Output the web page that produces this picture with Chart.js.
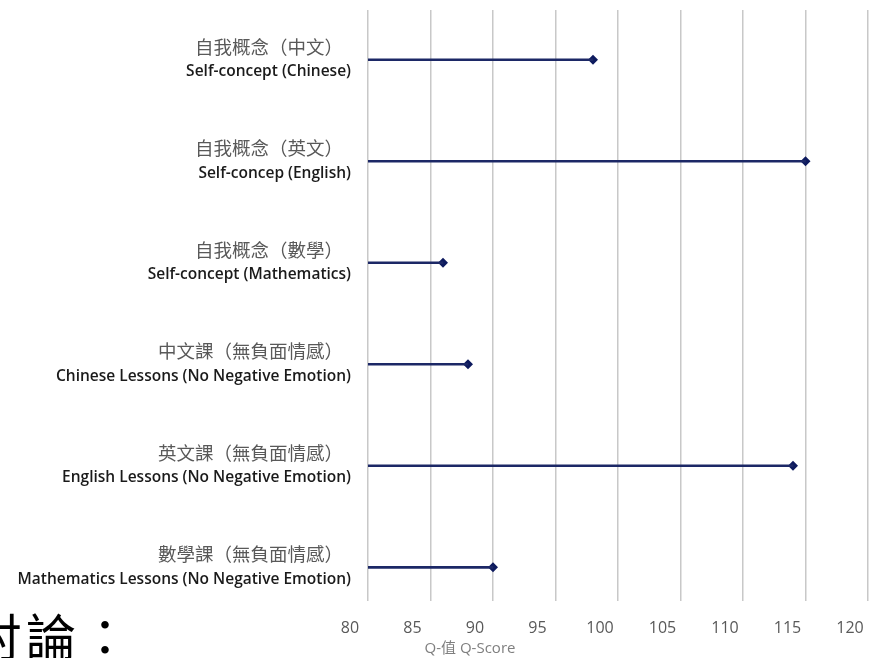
<!DOCTYPE html>
<html>
<head>
<meta charset="utf-8">
<script src="https://cdn.jsdelivr.net/npm/chart.js@4"></script>
<style>
  body { margin: 0; background: #fff; overflow: hidden; }
  #wrap { position: relative; width: 884px; height: 658px; }
  #note { position: absolute; left: -28px; top: 609px; font: 50px "Noto Sans CJK TC"; line-height: 1; color: #000; white-space: nowrap; letter-spacing: 4px; }
</style>
</head>
<body>
<div id="wrap">
  <canvas id="myChart" width="884" height="658"></canvas>
  <div id="note">討論：</div>
</div>
<script>
// categories (top to bottom)
const labelsZh = ['自我概念（中文）', '自我概念（英文）', '自我概念（數學）', '中文課（無負面情感）', '英文課（無負面情感）', '數學課（無負面情感）'];
const labelsEn = ['Self-concept (Chinese)', 'Self-concep (English)', 'Self-concept (Mathematics)', 'Chinese Lessons (No Negative Emotion)', 'English Lessons (No Negative Emotion)', 'Mathematics Lessons (No Negative Emotion)'];
// Q-scores
const qScores = [98, 115, 86, 88, 114, 90];
const baseValue = 80;
const xTicks = [80, 85, 90, 95, 100, 105, 110, 115, 120];
const axisTitle = 'Q-值 Q-Score';

const navy = '#1c2866';

document.addEventListener('DOMContentLoaded', function () {
  const stems = [];
  const dots = [];
  for (let i = 0; i < qScores.length; i++) {
    stems.push({ y: i, x: [baseValue, qScores[i]] });
    dots.push({ y: i, x: qScores[i] });
  }

  // draw the two-line category labels and the axis title
  const labelPlugin = {
    id: 'labelPlugin',
    afterDraw(chart) {
      const ctx = chart.ctx;
      const yScale = chart.scales.y;
      ctx.save();
      ctx.textAlign = 'right';
      ctx.textBaseline = 'middle';
      for (let i = 0; i < labelsZh.length; i++) {
        const py = yScale.getPixelForValue(i);
        ctx.font = '18.5px "Noto Sans CJK TC"';
        ctx.fillStyle = '#595959';
        ctx.fillText(labelsZh[i], 343, py - 13);
        ctx.font = '600 15.5px "Open Sans"';
        ctx.fillStyle = '#1a1a1a';
        ctx.fillText(labelsEn[i], 351, py + 12);
      }
      ctx.textAlign = 'center';
      ctx.font = '15px "Open Sans", "Noto Sans CJK TC"';
      ctx.fillStyle = '#7f7f7f';
      ctx.fillText(axisTitle, 470, 649);
      ctx.restore();
    }
  };

  const ctx = document.getElementById('myChart').getContext('2d');
  const myChart = new Chart(ctx, {
    type: 'bar',
    data: {
      datasets: [{
        data: stems,
        backgroundColor: navy,
        borderWidth: 0,
        barThickness: 2
      }, {
        type: 'scatter',
        data: dots,
        pointStyle: 'rectRot',
        pointRadius: 5,
        backgroundColor: '#0d1a5e',
        borderColor: '#0d1a5e',
        borderWidth: 0
      }]
    },
    options: {
      indexAxis: 'y',
      responsive: false,
      animation: false,
      layout: { padding: { left: 368, right: 16, top: 10, bottom: 2 } },
      plugins: { legend: { display: false }, tooltip: { enabled: false } },
      scales: {
        x: {
          type: 'linear',
          min: 80,
          max: 120,
          afterBuildTicks: function (axis) {
            axis.ticks = xTicks.map(v => ({ value: v }));
          },
          afterFit: function (axis) {
            axis.paddingRight = 0;
            axis.paddingLeft = 0;
          },
          grid: { color: '#c8c8c8', lineWidth: 1.5, drawTicks: false },
          border: { display: false },
          ticks: {
            padding: 18,
            labelOffset: -18,
            color: '#595959',
            font: { family: 'Open Sans', size: 16 }
          }
        },
        y: {
          type: 'linear',
          reverse: true,
          offset: false,
          min: -0.49,
          max: 5.33,
          display: false
        }
      }
    },
    plugins: [labelPlugin]
  });
});
</script>
</body>
</html>
